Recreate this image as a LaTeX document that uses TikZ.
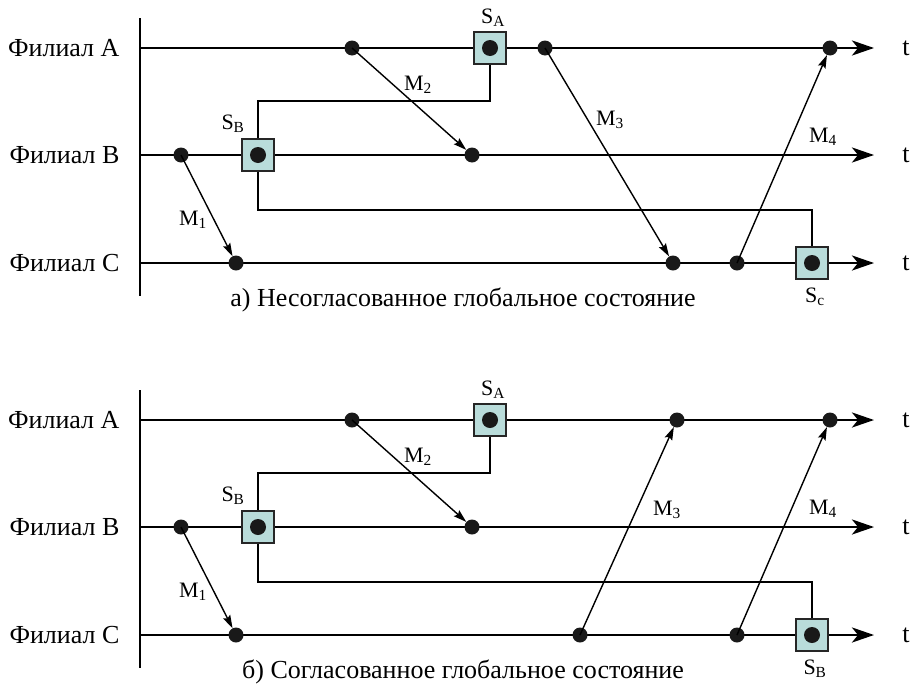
\documentclass[tikz,border=0pt]{standalone}
\usepackage{fontspec}
\setmainfont{Liberation Serif}
\usetikzlibrary{arrows.meta}
\definecolor{snapfill}{HTML}{B9DCDA}
\begin{document}
\begin{tikzpicture}[x=1pt,y=-1pt,
  timeline/.style={line width=2.8pt,-{Stealth[length=22pt,width=15pt,inset=6pt]}},
  axis/.style={line width=2.2pt},
  msg/.style={line width=1.4pt,-{Stealth[length=13pt,width=8pt,inset=2pt]}},
  cutline/.style={line width=2.8pt},
  ev/.style={circle,fill=black!90,inner sep=0pt,minimum size=15pt},
  snap/.style={draw=black!85,line width=1.4pt,fill=snapfill,minimum size=32pt,inner sep=0pt},
  snapdot/.style={circle,fill=black!90,inner sep=0pt,minimum size=16pt},
  branch/.style={font=\fontsize{26}{30}\selectfont,anchor=east},
  tlab/.style={font=\fontsize{26}{30}\selectfont},
  lab/.style={font=\fontsize{22}{26}\selectfont},
  captext/.style={font=\fontsize{26}{30}\selectfont}]
\useasboundingbox (0,0) rectangle (912,699);

% ===================== part a =====================
\draw[axis] (140,18) -- (140,296);
\node[branch] (la) at (123,48) {Филиал A};
\node[branch] (lb) at (123,155) {Филиал B};
\node[branch] (lc) at (123,263) {Филиал C};
\coordinate (a0) at (140,48);
\coordinate (b0) at (140,155);
\coordinate (c0) at (140,263);
\node[tlab] (ta) at (906,48) {t};
\node[tlab] (tb) at (906,155) {t};
\node[tlab] (tc) at (906,263) {t};
\draw[timeline] (a0) -- (874,48);
\draw[timeline] (b0) -- (874,155);
\draw[timeline] (c0) -- (874,263);

% cut line
\draw[cutline] (490,48) -- (490,101) -- (258,101) -- (258,210) -- (812,210) -- (812,263);

% snapshots
\node[snap] (sa) at (490,48) {};
\node[snapdot] at (sa) {};
\node[snap] (sb) at (258,155) {};
\node[snapdot] at (sb) {};
\node[snap] (sc) at (812,263) {};
\node[snapdot] at (sc) {};
\node[lab] (lsa) at (493,18) {S\textsubscript{A}};
\node[lab] (lsb) at (233,124) {S\textsubscript{B}};
\node[lab] (lsc) at (815,297) {S\textsubscript{c}};

% events
\node[ev] (a1) at (352,48) {};
\node[ev] (a2) at (545,48) {};
\node[ev] (a3) at (830,48) {};
\node[ev] (b1) at (181,155) {};
\node[ev] (b2) at (472,155) {};
\node[ev] (c1) at (236,263) {};
\node[ev] (c2) at (673,263) {};
\node[ev] (c3) at (737,263) {};

% messages
\draw[msg] (a1.center) -- (b2);
\draw[msg] (a2.center) -- (c2);
\draw[msg] (b1.center) -- (c1);
\draw[msg] (c3.center) -- (a3);
\node[lab] (m2) at (418,85) {M\textsubscript{2}};
\node[lab] (m3) at (610,120) {M\textsubscript{3}};
\node[lab] (m1) at (193,220) {M\textsubscript{1}};
\node[lab] (m4) at (823,137) {M\textsubscript{4}};

\node[captext] (capa) at (463,300) {а) Несогласованное глобальное состояние};

% ===================== part b =====================
\draw[axis] (140,390) -- (140,668);
\node[branch] (la2) at (123,420) {Филиал A};
\node[branch] (lb2) at (123,527) {Филиал B};
\node[branch] (lc2) at (123,635) {Филиал C};
\coordinate (a0b) at (140,420);
\coordinate (b0b) at (140,527);
\coordinate (c0b) at (140,635);
\node[tlab] (ta2) at (906,420) {t};
\node[tlab] (tb2) at (906,527) {t};
\node[tlab] (tc2) at (906,635) {t};
\draw[timeline] (a0b) -- (874,420);
\draw[timeline] (b0b) -- (874,527);
\draw[timeline] (c0b) -- (874,635);

\draw[cutline] (490,420) -- (490,473) -- (258,473) -- (258,582) -- (812,582) -- (812,635);

\node[snap] (sa2) at (490,420) {};
\node[snapdot] at (sa2) {};
\node[snap] (sb2) at (258,527) {};
\node[snapdot] at (sb2) {};
\node[snap] (sc2) at (812,635) {};
\node[snapdot] at (sc2) {};
\node[lab] (lsa2) at (493,390) {S\textsubscript{A}};
\node[lab] (lsb2) at (233,496) {S\textsubscript{B}};
\node[lab] (lsc2) at (815,669) {S\textsubscript{B}};

\node[ev] (a1b) at (352,420) {};
\node[ev] (a2b) at (677,420) {};
\node[ev] (a3b) at (830,420) {};
\node[ev] (b1b) at (181,527) {};
\node[ev] (b2b) at (472,527) {};
\node[ev] (c1b) at (236,635) {};
\node[ev] (c2b) at (580,635) {};
\node[ev] (c3b) at (737,635) {};

\draw[msg] (a1b.center) -- (b2b);
\draw[msg] (c2b.center) -- (a2b);
\draw[msg] (b1b.center) -- (c1b);
\draw[msg] (c3b.center) -- (a3b);
\node[lab] (m2b) at (418,457) {M\textsubscript{2}};
\node[lab] (m3b) at (667,510) {M\textsubscript{3}};
\node[lab] (m1b) at (193,592) {M\textsubscript{1}};
\node[lab] (m4b) at (823,509) {M\textsubscript{4}};

\node[captext] (capb) at (463,672) {б) Согласованное глобальное состояние};
\end{tikzpicture}
\end{document}
